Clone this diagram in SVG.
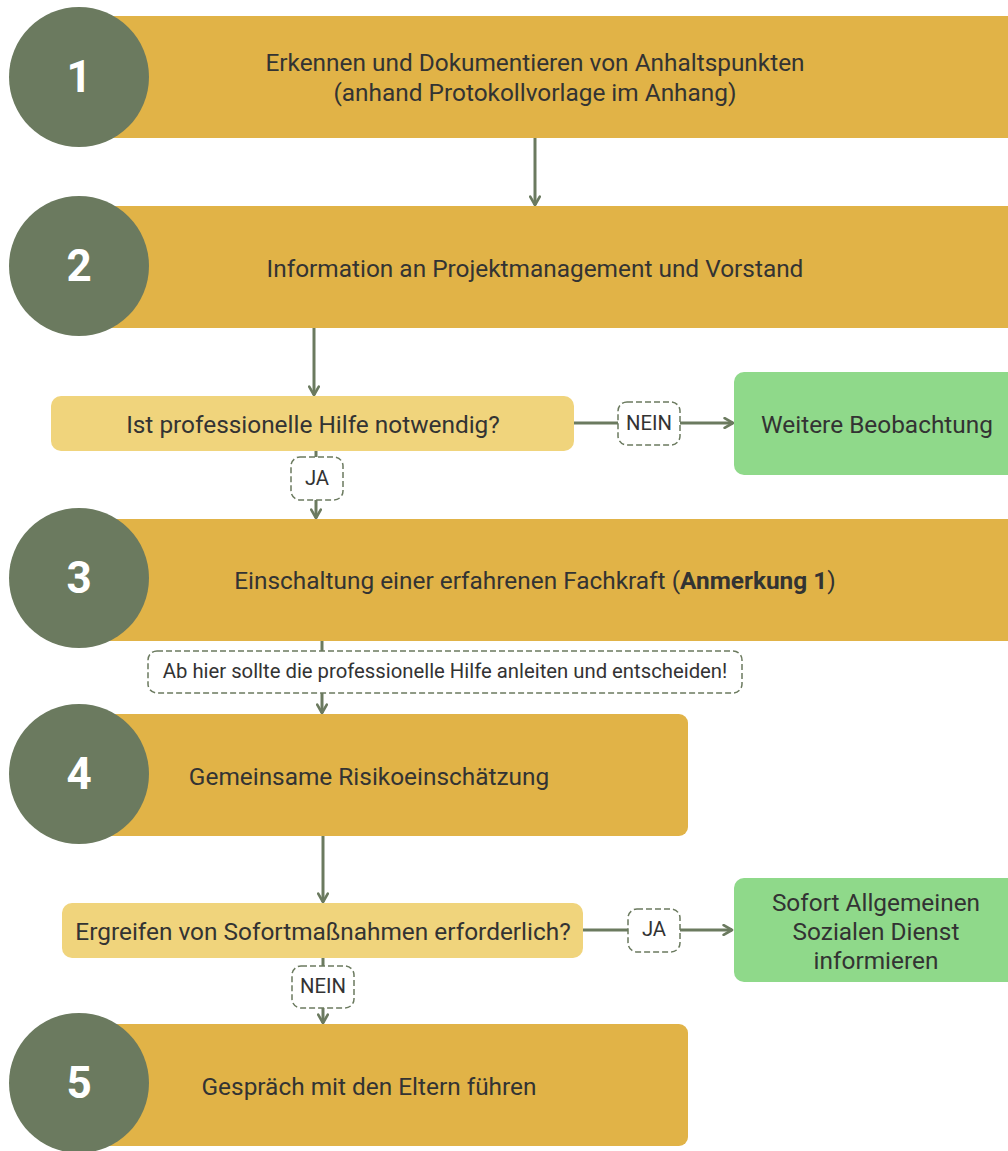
<svg xmlns="http://www.w3.org/2000/svg" width="1008" height="1151" viewBox="0 0 1008 1151">
<style>
.bar{fill:#E1B347}
.circ{fill:#6B7A5F}
.num{fill:#FFFFFF;font-family:Roboto,"Liberation Sans",sans-serif;font-weight:bold;font-size:44px;text-anchor:middle;dominant-baseline:central}
.t{fill:#333333;font-family:Roboto,"Liberation Sans",sans-serif;font-size:24.4px;text-anchor:middle;dominant-baseline:central}
.dec{fill:#F0D47C}
.grn{fill:#8FD98A}
.lbl{fill:#FFFFFF;stroke:#6B7A5F;stroke-width:1.5;stroke-dasharray:6 3}
.lt{fill:#333333;font-family:Roboto,"Liberation Sans",sans-serif;font-size:20.3px;text-anchor:middle;dominant-baseline:central}
.c{fill:none;stroke:#6B7A5F;stroke-width:3}
</style>
<defs>
<marker id="ah" viewBox="0 0 10 10" refX="8" refY="5" markerWidth="4" markerHeight="4" orient="auto" markerUnits="strokeWidth">
<path d="M1,1 L8,5 L1,9" fill="none" stroke="#6B7A5F" stroke-width="2.2" stroke-linecap="round" stroke-linejoin="round"/>
</marker>
</defs>
<g id="connectors">
<line class="c" x1="535" y1="138" x2="535" y2="205" marker-end="url(#ah)"/>
<line class="c" x1="314" y1="328" x2="314" y2="395" marker-end="url(#ah)"/>
<line class="c" x1="574" y1="423" x2="733" y2="423" marker-end="url(#ah)"/>
<line class="c" x1="316" y1="451" x2="316" y2="518" marker-end="url(#ah)"/>
<line class="c" x1="322" y1="641" x2="322" y2="713" marker-end="url(#ah)"/>
<line class="c" x1="323" y1="836" x2="323" y2="902" marker-end="url(#ah)"/>
<line class="c" x1="583" y1="930" x2="732" y2="930" marker-end="url(#ah)"/>
<line class="c" x1="323" y1="958" x2="323" y2="1023" marker-end="url(#ah)"/>
</g>
<g id="step1">
<rect class="bar" x="60" y="16" width="960" height="122"/>
<circle class="circ" cx="79" cy="77" r="70"/>
<text class="num" x="79" y="77">1</text>
<text class="t" x="535" y="62">Erkennen und Dokumentieren von Anhaltspunkten</text>
<text class="t" x="535" y="92">(anhand Protokollvorlage im Anhang)</text>
</g>
<g id="step2">
<rect class="bar" x="60" y="206" width="960" height="122"/>
<circle class="circ" cx="79" cy="266" r="70"/>
<text class="num" x="79" y="266">2</text>
<text class="t" x="535" y="268">Information an Projektmanagement und Vorstand</text>
</g>
<g id="decision1">
<rect class="dec" x="51" y="396" width="523" height="55" rx="10"/>
<text class="t" x="313" y="424">Ist professionelle Hilfe notwendig?</text>
</g>
<g id="label-nein1">
<rect class="lbl" x="618" y="402" width="62" height="43" rx="9"/>
<text class="lt" x="649" y="423">NEIN</text>
</g>
<g id="observe">
<rect class="grn" x="734" y="372" width="290" height="103" rx="10"/>
<text class="t" x="877" y="424">Weitere Beobachtung</text>
</g>
<g id="label-ja1">
<rect class="lbl" x="291" y="457" width="52" height="43" rx="9"/>
<text class="lt" x="317" y="478">JA</text>
</g>
<g id="step3">
<rect class="bar" x="60" y="519" width="960" height="122"/>
<circle class="circ" cx="79" cy="578" r="70"/>
<text class="num" x="79" y="578">3</text>
<text class="t" x="535" y="580">Einschaltung einer erfahrenen Fachkraft (<tspan font-weight="bold">Anmerkung 1</tspan>)</text>
</g>
<g id="note">
<rect class="lbl" x="148" y="651" width="594" height="42" rx="9"/>
<text class="lt" x="445" y="671">Ab hier sollte die professionelle Hilfe anleiten und entscheiden!</text>
</g>
<g id="step4">
<rect class="bar" x="50" y="714" width="638" height="122" rx="9"/>
<circle class="circ" cx="79" cy="774" r="70"/>
<text class="num" x="79" y="774">4</text>
<text class="t" x="369" y="776">Gemeinsame Risikoeinschätzung</text>
</g>
<g id="decision2">
<rect class="dec" x="62" y="903" width="521" height="55" rx="10"/>
<text class="t" x="323" y="931">Ergreifen von Sofortmaßnahmen erforderlich?</text>
</g>
<g id="label-ja2">
<rect class="lbl" x="628" y="909" width="52" height="43" rx="9"/>
<text class="lt" x="654" y="929">JA</text>
</g>
<g id="asd">
<rect class="grn" x="734" y="878" width="290" height="104" rx="10"/>
<text class="t" x="876" y="902">Sofort Allgemeinen</text>
<text class="t" x="876" y="931">Sozialen Dienst</text>
<text class="t" x="876" y="960">informieren</text>
</g>
<g id="label-nein2">
<rect class="lbl" x="292" y="966" width="62" height="42" rx="9"/>
<text class="lt" x="323" y="986">NEIN</text>
</g>
<g id="step5">
<rect class="bar" x="50" y="1024" width="638" height="122" rx="9"/>
<circle class="circ" cx="79" cy="1083" r="70"/>
<text class="num" x="79" y="1083">5</text>
<text class="t" x="369" y="1086">Gespräch mit den Eltern führen</text>
</g>
</svg>
